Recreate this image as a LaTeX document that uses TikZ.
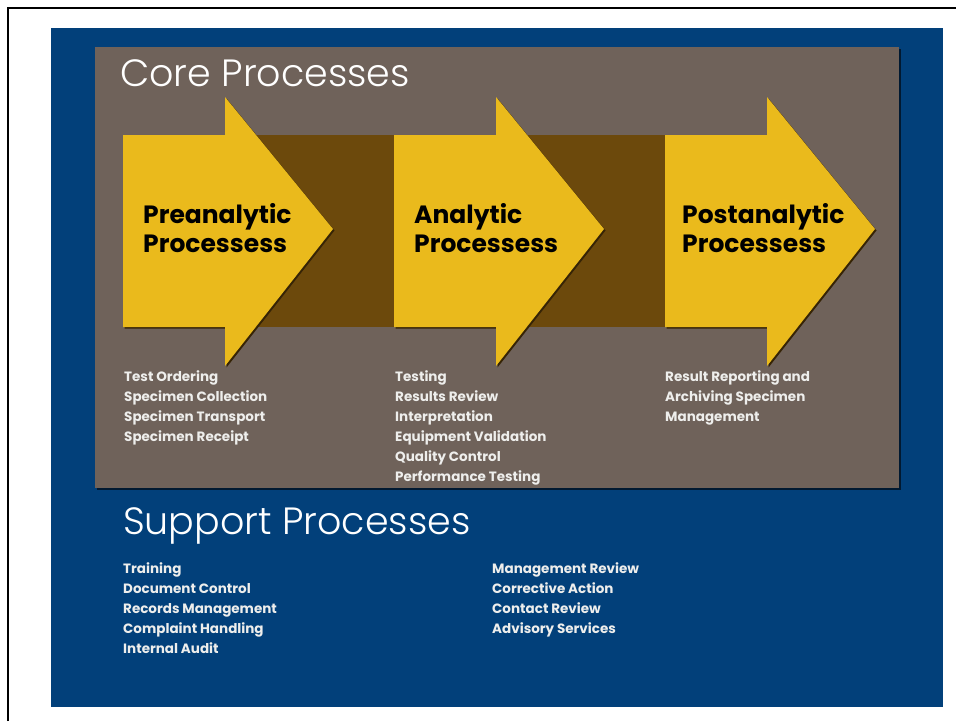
\documentclass[tikz,border=0pt]{standalone}
\usepackage{fontspec}
\IfFontExistsTF{Poppins Light}{\newfontfamily\thinfont{Poppins Light}}{\newfontfamily\thinfont{Poppins}}
\newfontfamily\gothic{Poppins}
\definecolor{frameBlue}{RGB}{2,64,122}
\definecolor{coreGray}{RGB}{111,98,90}
\definecolor{bandBrown}{RGB}{108,73,12}
\definecolor{stageYellow}{RGB}{234,186,28}
\definecolor{itemGray}{RGB}{238,238,236}

\begin{document}
\begin{tikzpicture}[x=1pt,y=-1pt,
    every node/.style={inner sep=0pt},
    title/.style={anchor=base west, text=white, font=\thinfont\fontsize{38}{40}\selectfont},
    stage/.style={anchor=base west, align=left, text=black, font=\gothic\bfseries\fontsize{25}{29}\selectfont},
    items/.style={anchor=base west, align=left, text=itemGray, font=\gothic\bfseries\fontsize{13.5}{20}\selectfont}]
	\useasboundingbox (0,0) rectangle (956,721);
	\draw[line width=2pt] (8,721) -- (8,8) -- (956,8);
	\fill[frameBlue] (51,28) rectangle (943,707);
	\fill[black!60!frameBlue] (97,49) rectangle (901,490);% shadow of the core box
	\fill[coreGray] (95,47) rectangle (899,488);
	\fill[bandBrown] (225,135) rectangle (766,327);
	\foreach \x in {0,271,542} {
		\fill[black!50!bandBrown,shift={(\x+1.5,1.5)}] (123,135) -- (225,135) -- (225,97) -- (333,229) -- (225,366) -- (225,327) -- (123,327) -- cycle;
		\fill[stageYellow,shift={(\x,0)}] (123,135) -- (225,135) -- (225,97) -- (333,229) -- (225,366) -- (225,327) -- (123,327) -- cycle;
	}
	% base anchors sit on the last line of each block
	\node[title] (core) at (120,86) {Core Processes};
	\node[stage] (pre) at (143,252) {Preanalytic\\Processess};
	\node[stage] (ana) at (414,252) {Analytic\\Processess};
	\node[stage] (post) at (682,252) {Postanalytic\\Processess};
	\node[items] (preItems) at (124,441) {Test Ordering\\Specimen Collection\\Specimen Transport\\Specimen Receipt};
	\node[items] (anaItems) at (395,481) {Testing\\Results Review\\Interpretation\\Equipment Validation\\Quality Control\\Performance Testing};
	\node[items] (postItems) at (665,421) {Result Reporting and\\Archiving Specimen\\Management};
	\node[title] (support) at (123,534) {Support Processes};
	\node[items] (supLeft) at (123,653) {Training\\Document Control\\Records Management\\Complaint Handling\\Internal Audit};
	\node[items] (supRight) at (492,633) {Management Review\\Corrective Action\\Contact Review\\Advisory Services};
\end{tikzpicture}
\end{document}
